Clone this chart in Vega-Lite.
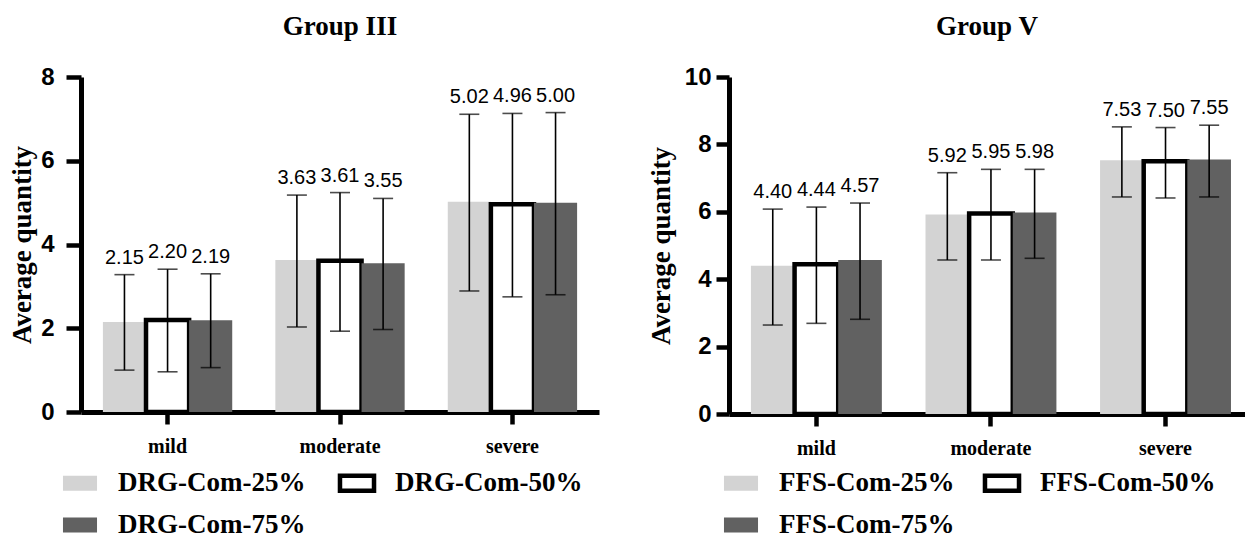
{
  "$schema": "https://vega.github.io/schema/vega-lite/v6.json",
  "padding": {"left": 8, "top": 13, "right": 0, "bottom": 0},
  "background": "white",
  "spacing": 48,
  "resolve": {
    "scale": {"color": "independent", "stroke": "independent", "y": "independent", "x": "independent", "xOffset": "independent"},
    "legend": {"color": "independent", "stroke": "independent"}
  },
  "hconcat": [
    {
      "width": 518,
      "height": 335,
      "title": {"text": "Group III"},
      "data": {"values": [
        {"severity": "mild", "series": "DRG-Com-25%", "mean": 2.15, "lo": 1.00, "hi": 3.28},
        {"severity": "mild", "series": "DRG-Com-50%", "mean": 2.20, "lo": 0.96, "hi": 3.41},
        {"severity": "mild", "series": "DRG-Com-75%", "mean": 2.19, "lo": 1.06, "hi": 3.30},
        {"severity": "moderate", "series": "DRG-Com-25%", "mean": 3.63, "lo": 2.03, "hi": 5.18},
        {"severity": "moderate", "series": "DRG-Com-50%", "mean": 3.61, "lo": 1.93, "hi": 5.24},
        {"severity": "moderate", "series": "DRG-Com-75%", "mean": 3.55, "lo": 1.97, "hi": 5.10},
        {"severity": "severe", "series": "DRG-Com-25%", "mean": 5.02, "lo": 2.89, "hi": 7.11},
        {"severity": "severe", "series": "DRG-Com-50%", "mean": 4.96, "lo": 2.75, "hi": 7.13},
        {"severity": "severe", "series": "DRG-Com-75%", "mean": 5.00, "lo": 2.80, "hi": 7.15}
      ]},
      "encoding": {
        "x": {"field": "severity", "type": "nominal", "sort": ["mild", "moderate", "severe"],
              "scale": {"paddingInner": 0.25, "paddingOuter": 0.127}, "title": null},
        "xOffset": {"field": "series", "type": "nominal", "sort": ["DRG-Com-25%", "DRG-Com-50%", "DRG-Com-75%"],
                    "scale": {"paddingInner": 0, "paddingOuter": 0}}
      },
      "layer": [
        {
          "mark": {"type": "bar", "strokeWidth": 4.5},
          "encoding": {
            "y": {"field": "mean", "type": "quantitative", "scale": {"domain": [0, 8], "nice": false},
                  "axis": {"values": [0, 2, 4, 6, 8], "tickSize": 15, "labelPadding": 12, "titlePadding": 4}, "title": "Average quantity"},
            "color": {"field": "series", "type": "nominal", "sort": ["DRG-Com-25%", "DRG-Com-50%", "DRG-Com-75%"],
                      "scale": {"domain": ["DRG-Com-25%", "DRG-Com-50%", "DRG-Com-75%"], "range": ["#d3d3d3", "#ffffff", "#616161"]},
                      "legend": {"title": null, "orient": "none", "legendX": -15, "legendY": 392, "columnPadding": 24}},
            "stroke": {"field": "series", "type": "nominal", "sort": ["DRG-Com-25%", "DRG-Com-50%", "DRG-Com-75%"],
                       "scale": {"domain": ["DRG-Com-25%", "DRG-Com-50%", "DRG-Com-75%"], "range": ["transparent", "#000000", "transparent"]},
                       "legend": {"title": null, "orient": "none", "legendX": -15, "legendY": 392, "columnPadding": 24}}
          }
        },
        {
          "mark": {"type": "rule", "color": "black", "strokeWidth": 1.6},
          "encoding": {
            "y": {"field": "lo", "type": "quantitative", "scale": {"domain": [0, 8], "nice": false}, "title": "Average quantity"},
            "y2": {"field": "hi"}
          }
        },
        {
          "mark": {"type": "tick", "color": "black", "thickness": 1.6, "size": 20},
          "encoding": {"y": {"field": "lo", "type": "quantitative", "scale": {"domain": [0, 8], "nice": false}, "title": "Average quantity"}}
        },
        {
          "mark": {"type": "tick", "color": "black", "thickness": 1.6, "size": 20},
          "encoding": {"y": {"field": "hi", "type": "quantitative", "scale": {"domain": [0, 8], "nice": false}, "title": "Average quantity"}}
        },
        {
          "mark": {"type": "text", "font": "Liberation Sans", "fontSize": 20, "dy": -11, "baseline": "alphabetic", "color": "black"},
          "encoding": {
            "y": {"field": "hi", "type": "quantitative", "scale": {"domain": [0, 8], "nice": false}, "title": "Average quantity"},
            "text": {"field": "mean", "type": "quantitative", "format": ".2f"}
          }
        }
      ]
    },
    {
      "width": 516,
      "height": 337,
      "title": {"text": "Group V"},
      "data": {"values": [
        {"severity": "mild", "series": "FFS-Com-25%", "mean": 4.40, "lo": 2.64, "hi": 6.08},
        {"severity": "mild", "series": "FFS-Com-50%", "mean": 4.44, "lo": 2.69, "hi": 6.14},
        {"severity": "mild", "series": "FFS-Com-75%", "mean": 4.57, "lo": 2.81, "hi": 6.26},
        {"severity": "moderate", "series": "FFS-Com-25%", "mean": 5.92, "lo": 4.57, "hi": 7.16},
        {"severity": "moderate", "series": "FFS-Com-50%", "mean": 5.95, "lo": 4.57, "hi": 7.26},
        {"severity": "moderate", "series": "FFS-Com-75%", "mean": 5.98, "lo": 4.62, "hi": 7.26},
        {"severity": "severe", "series": "FFS-Com-25%", "mean": 7.53, "lo": 6.44, "hi": 8.52},
        {"severity": "severe", "series": "FFS-Com-50%", "mean": 7.50, "lo": 6.41, "hi": 8.50},
        {"severity": "severe", "series": "FFS-Com-75%", "mean": 7.55, "lo": 6.44, "hi": 8.57}
      ]},
      "encoding": {
        "x": {"field": "severity", "type": "nominal", "sort": ["mild", "moderate", "severe"],
              "scale": {"paddingInner": 0.25, "paddingOuter": 0.103, "align": 0.61}, "title": null},
        "xOffset": {"field": "series", "type": "nominal", "sort": ["FFS-Com-25%", "FFS-Com-50%", "FFS-Com-75%"],
                    "scale": {"paddingInner": 0, "paddingOuter": 0}}
      },
      "layer": [
        {
          "mark": {"type": "bar", "strokeWidth": 4.5},
          "encoding": {
            "y": {"field": "mean", "type": "quantitative", "scale": {"domain": [0, 10], "nice": false},
                  "axis": {"values": [0, 2, 4, 6, 8, 10], "tickSize": 13, "labelPadding": 5, "titlePadding": 9}, "title": "Average quantity"},
            "color": {"field": "series", "type": "nominal", "sort": ["FFS-Com-25%", "FFS-Com-50%", "FFS-Com-75%"],
                      "scale": {"domain": ["FFS-Com-25%", "FFS-Com-50%", "FFS-Com-75%"], "range": ["#d3d3d3", "#ffffff", "#616161"]},
                      "legend": {"title": null, "orient": "none", "legendX": -2, "legendY": 392, "columnPadding": 20}},
            "stroke": {"field": "series", "type": "nominal", "sort": ["FFS-Com-25%", "FFS-Com-50%", "FFS-Com-75%"],
                       "scale": {"domain": ["FFS-Com-25%", "FFS-Com-50%", "FFS-Com-75%"], "range": ["transparent", "#000000", "transparent"]},
                       "legend": {"title": null, "orient": "none", "legendX": -2, "legendY": 392, "columnPadding": 20}}
          }
        },
        {
          "mark": {"type": "rule", "color": "black", "strokeWidth": 1.6},
          "encoding": {
            "y": {"field": "lo", "type": "quantitative", "scale": {"domain": [0, 10], "nice": false}, "title": "Average quantity"},
            "y2": {"field": "hi"}
          }
        },
        {
          "mark": {"type": "tick", "color": "black", "thickness": 1.6, "size": 20},
          "encoding": {"y": {"field": "lo", "type": "quantitative", "scale": {"domain": [0, 10], "nice": false}, "title": "Average quantity"}}
        },
        {
          "mark": {"type": "tick", "color": "black", "thickness": 1.6, "size": 20},
          "encoding": {"y": {"field": "hi", "type": "quantitative", "scale": {"domain": [0, 10], "nice": false}, "title": "Average quantity"}}
        },
        {
          "mark": {"type": "text", "font": "Liberation Sans", "fontSize": 20, "dy": -11, "baseline": "alphabetic", "color": "black"},
          "encoding": {
            "y": {"field": "hi", "type": "quantitative", "scale": {"domain": [0, 10], "nice": false}, "title": "Average quantity"},
            "text": {"field": "mean", "type": "quantitative", "format": ".2f"}
          }
        }
      ]
    }
  ],
  "config": {
    "view": {"stroke": null},
    "title": {"font": "Liberation Serif", "fontSize": 27, "fontWeight": "bold", "color": "black", "offset": 24, "frame": "group"},
    "axis": {
      "domainColor": "black", "domainWidth": 5, "tickColor": "black", "tickWidth": 4.5,
      "labelColor": "black", "grid": false,
      "titleFont": "Liberation Serif", "titleFontSize": 27, "titleFontWeight": "bold", "titleColor": "black"
    },
    "axisY": {"labelFont": "Liberation Sans", "labelFontSize": 24, "labelFontWeight": "bold"},
    "axisX": {"labelFont": "Liberation Serif", "labelFontSize": 20, "labelFontWeight": "bold", "labelAngle": 0, "labelPadding": 12, "tickSize": 12},
    "legend": {
      "columns": 2, "direction": "horizontal",
      "symbolType": "M-1.5,-0.66H1.5V0.66H-1.5Z", "symbolSize": 515, "symbolStrokeWidth": 4.5, "symbolOpacity": 1,
      "labelFont": "Liberation Serif", "labelFontSize": 27, "labelFontWeight": "bold", "labelColor": "black",
      "labelOffset": 24, "rowPadding": 8, "labelLimit": 400
    }
  }
}
